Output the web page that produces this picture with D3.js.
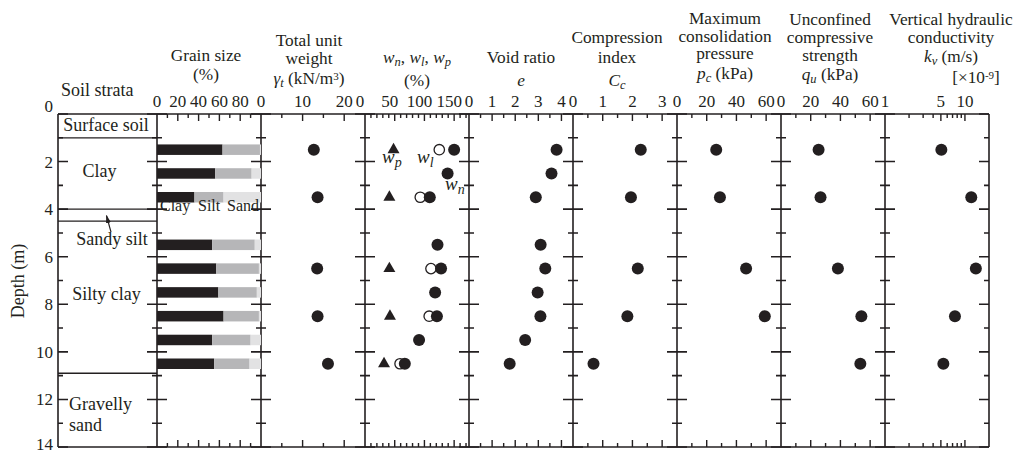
<!DOCTYPE html>
<html>
<head>
<meta charset="utf-8">
<script src="https://cdn.jsdelivr.net/npm/d3@7"></script>
<style>
  body { margin: 0; background: #fff; }
  svg text { font-family: "Liberation Serif", "Times New Roman", serif; fill: #231f20; }
</style>
</head>
<body>
<svg id="chart" width="1016" height="453"></svg>
<script>
// ---- data ----
const barDepths = [1.5, 2.5, 3.5, 5.5, 6.5, 7.5, 8.5, 9.5, 10.5];
const clayPct = [63, 56, 36, 53, 57, 59, 64, 53, 55];
const siltPct = [36, 35, 28, 41, 41, 37, 34, 37, 34];
const sandPct = [1, 9, 36, 6, 2, 4, 2, 10, 11];

const testDepths = [1.5, 3.5, 6.5, 8.5, 10.5];
const unitWeight = [12.7, 13.6, 13.5, 13.6, 16.1];

const wnDepths = [1.5, 2.5, 3.5, 5.5, 6.5, 7.5, 8.5, 9.5, 10.5];
const wn = [150, 139, 109, 122, 128, 118, 121, 91, 67];
const wl = [125, 93, 111, 108, 59];
const wp = [48, 41, 41, 42, 32];

const voidRatio = [3.79, 3.57, 2.89, 3.10, 3.30, 2.97, 3.09, 2.43, 1.76];
const compIndex = [2.28, 1.95, 2.18, 1.83, 0.69];
const pcDepths = [1.5, 3.5, 6.5, 8.5];
const pcKPa = [26.4, 28.9, 46.5, 59.1];
const quKPa = [25.3, 26.6, 38.3, 54.1, 53.4];
const kv = [5.07, 12.0, 13.7, 7.5, 5.37];

const strataBounds = [1.0, 4.0, 4.5, 10.9];
const strataNames = ["Surface soil", "Clay", "Sandy silt", "Silty clay", "Gravelly", "sand"];
const strataLabelDepth = [0.71, 2.65, 5.5, 7.82, 12.44, 13.33];

const depthMajor = [0, 2, 4, 6, 8, 10, 12, 14];
const depthMinor = [1, 3, 5, 7, 9, 11, 13];

// ---- layout ----
const svg = d3.select("#chart");
const ink = "#231f20";
const y = d3.scaleLinear().domain([0, 14]).range([114, 447]);
const stratX0 = 58, firstX = 157, panelW = 104;
const tickLayer = svg.append("g");

// inward depth ticks on a vertical border; dir = +1 (right) or -1 (left)
function vTicks(xv, dir) {
  const p = d3.path();
  depthMajor.forEach(d => { p.moveTo(xv, y(d)); p.lineTo(xv + dir * 10, y(d)); });
  depthMinor.forEach(d => { p.moveTo(xv, y(d)); p.lineTo(xv + dir * 5, y(d)); });
  tickLayer.append("path").attr("d", p.toString())
    .attr("fill", "none").attr("stroke", ink).attr("stroke-width", 1.6);
}

// inward ticks on top and bottom borders of a panel
function hTicks(x, minor, major) {
  const p = d3.path();
  [[minor, 4], [major, 7]].forEach(([vals, len]) => {
    vals.forEach(v => {
      p.moveTo(x(v), y(0)); p.lineTo(x(v), y(0) + len);
      p.moveTo(x(v), y(14)); p.lineTo(x(v), y(14) - len);
    });
  });
  tickLayer.append("path").attr("d", p.toString())
    .attr("fill", "none").attr("stroke", ink).attr("stroke-width", 1.4);
}

// header text: lines of [text, style] segments
function header(cx, baselines, lines, anchor) {
  const t = svg.append("text").attr("text-anchor", anchor || "middle")
    .attr("font-size", 17.3);
  lines.forEach((segs, i) => {
    const line = t.append("tspan").attr("x", cx).attr("y", baselines[i]);
    segs.forEach(([txt, st]) => {
      const s = line.append("tspan").text(txt);
      if (st && st.includes("i")) s.attr("font-style", "italic");
      if (st && st.includes("sub")) s.attr("baseline-shift", "-22%").attr("font-size", 12.5);
      if (st && st.includes("sup")) s.attr("baseline-shift", "38%").attr("font-size", 11);
    });
  });
}

// ---- depth axis (left) ----
svg.append("g").attr("transform", `translate(${stratX0},0)`)
  .call(d3.axisLeft(y).tickValues(depthMajor).tickSize(0).tickPadding(5))
  .call(g => g.select(".domain").remove())
  .call(g => g.selectAll("text").attr("font-size", 17)
    .attr("font-family", "Liberation Serif, serif").attr("fill", ink)
    .attr("dy", (d, i) => i === 0 ? "-0.15em" : (d === 14 ? "0.15em" : "0.32em")));

svg.append("text").attr("transform", "translate(24,281) rotate(-90)")
  .attr("text-anchor", "middle").attr("font-size", 18).text("Depth (m)");

// ---- soil strata column ----
vTicks(stratX0, 1);
vTicks(firstX, -1);
svg.append("g").selectAll("line").data(strataBounds).join("line")
  .attr("x1", stratX0).attr("x2", firstX)
  .attr("y1", d => y(d)).attr("y2", d => y(d))
  .attr("stroke", ink).attr("stroke-width", 1.3);

const strataX = [106, 99.5, 112, 106.5, 69, 69];
const strataAnchor = ["middle", "middle", "middle", "middle", "start", "start"];
svg.append("g").selectAll("text").data(strataNames).join("text")
  .attr("x", (d, i) => strataX[i]).attr("y", (d, i) => y(strataLabelDepth[i]))
  .attr("text-anchor", (d, i) => strataAnchor[i])
  .attr("font-size", 18).text(d => d);

svg.append("defs").append("marker").attr("id", "ah")
  .attr("viewBox", "0 -5 10 10").attr("refX", 9).attr("refY", 0)
  .attr("markerWidth", 7).attr("markerHeight", 9).attr("orient", "auto")
  .append("path").attr("d", "M0,-3L10,0L0,3Z").attr("fill", ink);
svg.append("line").attr("x1", 111).attr("y1", y(4.97)).attr("x2", 106.5).attr("y2", y(4.27))
  .attr("stroke", ink).attr("stroke-width", 1.2).attr("marker-end", "url(#ah)");

svg.append("text").attr("x", 61).attr("y", 96).attr("font-size", 18).text("Soil strata");

// ---- property panels ----
const panels = [
  { scale: d3.scaleLinear().domain([0, 100]), minor: [10, 30, 50, 70, 90], major: [20, 40, 60, 80], labels: [0, 20, 40, 60, 80] },
  { scale: d3.scaleLinear().domain([0, 25]), minor: [5, 15], major: [10, 20], labels: [0, 10, 20] },
  { scale: d3.scaleLinear().domain([0, 175]), minor: d3.range(10, 175, 10).filter(v => v % 50), major: [50, 100, 150], labels: [0, 50, 100, 150], dx: -5 },
  { scale: d3.scaleLinear().domain([0, 4.5]), minor: [0.5, 1.5, 2.5, 3.5], major: [1, 2, 3, 4], labels: [0, 1, 2, 3, 4] },
  { scale: d3.scaleLinear().domain([0, 3.5]), minor: [0.5, 1.5, 2.5], major: [1, 2, 3], labels: [0, 1, 2, 3] },
  { scale: d3.scaleLinear().domain([0, 70]), minor: [10, 30, 50], major: [20, 40, 60], labels: [0, 20, 40, 60] },
  { scale: d3.scaleLinear().domain([0, 70]), minor: [10, 30, 50], major: [20, 40, 60], labels: [0, 20, 40, 60] },
  { scale: d3.scaleLog().domain([1, 20]), minor: [2, 3, 4, 6, 7, 8, 9], major: [5, 10], labels: [1, 5, 10] }
];

panels.forEach((p, i) => {
  const x0 = firstX + i * panelW, x1 = x0 + panelW;
  p.scale.range([x0, x1]);
  const x = p.scale;
  vTicks(x0, 1);
  vTicks(x1, -1);
  hTicks(x, p.minor, p.major);
  svg.append("g").selectAll("text").data(p.labels).join("text")
    .attr("x", d => x(d) + (p.dx || 0)).attr("y", 107)
    .attr("text-anchor", "middle").attr("font-size", 17).text(d => d);
});

// panel frames
[stratX0].concat(d3.range(9).map(i => firstX + i * panelW)).forEach(xv => {
  svg.append("line").attr("x1", xv).attr("x2", xv).attr("y1", y(0)).attr("y2", y(14))
    .attr("stroke", ink).attr("stroke-width", 1.6);
});
[0, 14].forEach(dv => {
  svg.append("line").attr("x1", stratX0).attr("x2", firstX + 8 * panelW)
    .attr("y1", y(dv)).attr("y2", y(dv)).attr("stroke", ink).attr("stroke-width", 1.6);
});

const [xG, xGam, xW, xE, xCc, xPc, xQu, xKv] = panels.map(p => p.scale);

// grain size stacked bars
const stack = barDepths.map((d, i) => ({ d, parts: [
  { a: 0, b: clayPct[i], c: "#231f20" },
  { a: clayPct[i], b: clayPct[i] + siltPct[i], c: "#b6b6b8" },
  { a: clayPct[i] + siltPct[i], b: clayPct[i] + siltPct[i] + sandPct[i], c: "#e2e2e3" }
]}));
const barH = 10.5;
svg.append("g").selectAll("g").data(stack).join("g")
  .selectAll("rect").data(r => r.parts.map(p => ({ ...p, d: r.d }))).join("rect")
  .attr("x", p => xG(p.a)).attr("width", p => xG(p.b) - xG(p.a))
  .attr("y", p => y(p.d) - barH / 2).attr("height", barH)
  .attr("fill", p => p.c);

const grainNames = ["Clay", "Silt", "Sand"];
const grainLabelX = [160, 198, 227];
svg.append("g").selectAll("text").data(grainNames).join("text")
  .attr("x", (d, i) => grainLabelX[i]).attr("y", 211).attr("font-size", 16).text(d => d);

function dots(xs, depths, vals, r) {
  svg.append("g").selectAll("circle").data(vals).join("circle")
    .attr("cx", d => xs(d)).attr("cy", (d, i) => y(depths[i])).attr("r", r || 6)
    .attr("fill", ink);
}

dots(xGam, testDepths, unitWeight);

// water contents
svg.append("g").selectAll("path").data(wp).join("path")
  .attr("transform", (d, i) => `translate(${xW(d)},${y(testDepths[i])})`)
  .attr("d", d3.symbol(d3.symbolTriangle, 62)).attr("fill", ink);
svg.append("g").selectAll("circle").data(wl).join("circle")
  .attr("cx", d => xW(d)).attr("cy", (d, i) => y(testDepths[i])).attr("r", 5.2)
  .attr("fill", "#fff").attr("stroke", ink).attr("stroke-width", 1.3);
dots(xW, wnDepths, wn);

const wLabel = (xv, yv, sub) => {
  const t = svg.append("text").attr("x", xv).attr("y", yv).attr("font-size", 19).attr("font-style", "italic");
  t.append("tspan").text("w");
  t.append("tspan").attr("baseline-shift", "-30%").attr("font-size", 14).text(sub);
};
wLabel(382, 163, "p");
wLabel(417, 163, "l");
wLabel(445, 190, "n");

dots(xE, wnDepths, voidRatio);
dots(xCc, testDepths, compIndex);
dots(xPc, pcDepths, pcKPa);
dots(xQu, testDepths, quKPa);
dots(xKv, testDepths, kv);

// ---- headers ----
header(206, [61, 80], [[["Grain size"]], [["(%)"]]]);
header(309, [46, 64, 84], [[["Total unit"]], [["weight"]],
  [["γ", "i"], ["t", "isub"], [" (kN/m"], ["3", "sup"], [")"]]]);
header(417, [63, 86], [[["w", "i"], ["n", "isub"], [", "], ["w", "i"], ["l", "isub"], [", "], ["w", "i"], ["p", "isub"]], [["(%)"]]]);
header(521, [63, 86], [[["Void ratio"]], [["e", "i"]]]);
header(617, [43, 63, 86], [[["Compression"]], [["index"]], [["C", "i"], ["c", "isub"]]]);
header(725, [24, 41.5, 59, 79], [[["Maximum"]], [["consolidation"]], [["pressure"]],
  [["p", "i"], ["c", "isub"], ["  (kPa)"]]]);
header(830, [25, 42.5, 61, 80], [[["Unconfined"]], [["compressive"]], [["strength"]],
  [["q", "i"], ["u", "isub"], ["  (kPa)"]]]);
header(951, [25, 42.5, 62], [[["Vertical hydraulic"]], [["conductivity"]],
  [["k", "i"], ["v", "isub"], [" (m/s)"]]]);
header(976, [83], [[["[×10"], ["-9", "sup"], ["]"]]]);
</script>
</body>
</html>
